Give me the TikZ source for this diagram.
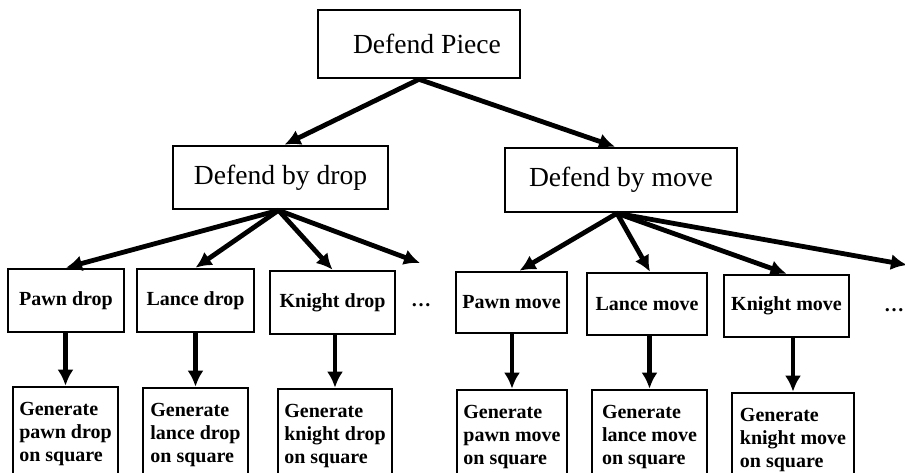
\documentclass[tikz,border=0pt]{standalone}
\usepackage{fontspec}
\setmainfont{Liberation Serif}
\usetikzlibrary{arrows.meta}
\begin{document}
\begin{tikzpicture}[x=0.5pt,y=-0.5pt,
  box/.style={draw,line width=1.3pt,inner sep=0pt,font=\fontsize{13.8}{16}\selectfont},
  small/.style={draw,line width=1.3pt,inner sep=0pt,font=\fontsize{10}{11.5}\selectfont\bfseries},
  gen/.style={draw,line width=1.3pt,inner sep=0pt,align=left,font=\fontsize{10}{11.6}\selectfont\bfseries},
  arr/.style={line width=2.4pt,-{Latex[length=8pt,width=8pt]}},
  dots/.style={font=\fontsize{10}{11.5}\selectfont\bfseries}]
\clip (0,0) rectangle (905,472);
\useasboundingbox (0,0) rectangle (905,472);
% top
\node[box,minimum width=101pt,minimum height=34pt] (top) at (419,44) {\hspace*{8pt}Defend Piece};
\node[box,minimum width=107.5pt,minimum height=31.5pt] (drop) at (280.5,177.5) {Defend by drop};
\node[box,minimum width=116pt,minimum height=32pt] (move) at (621,180) {Defend by move};
% third row
\node[small,minimum width=58pt,minimum height=31.5pt] (pd) at (66,300.5) {Pawn drop};
\node[small,minimum width=58.5pt,minimum height=31.5pt] (ld) at (195.5,300.5) {Lance drop};
\node[small,minimum width=62.5pt,minimum height=31.5pt] (kd) at (332.5,302.5) {Knight drop};
\node[dots] (d1) at (421,305) {\dots};
\node[small,minimum width=55.5pt,minimum height=30.5pt] (pm) at (511.5,302.5) {Pawn move};
\node[small,minimum width=60pt,minimum height=31pt] (lm) at (647,304) {Lance move};
\node[small,minimum width=62.5pt,minimum height=31pt] (km) at (786.5,306) {Knight move};
\node[dots] (d2) at (894,310) {\dots};
% generate row
\node[gen,minimum width=52.5pt,minimum height=47pt] (gpd) at (65.5,434) {Generate\\pawn drop\\on square};
\node[gen,minimum width=52.5pt,minimum height=47pt] (gld) at (195.5,435) {Generate\\lance drop\\on square};
\node[gen,minimum width=57pt,minimum height=47pt] (gkd) at (335,436) {Generate\\knight drop\\on square};
\node[gen,minimum width=55pt,minimum height=47pt] (gpm) at (512,437) {Generate\\pawn move\\on square};
\node[gen,minimum width=57.5pt,minimum height=47pt] (glm) at (649.5,437) {Generate\\lance move\\on square};
\node[gen,minimum width=61pt,minimum height=47pt] (gkm) at (793,440) {Generate\\knight move\\on square};
\coordinate (dd) at (420,263);
\coordinate (dm) at (907,265);
% arrows level 1
\draw[arr] (top.south) -- ([xshift=2pt]drop.north);
\draw[arr] (top.south) -- ([xshift=-3pt]move.north);
% arrows level 2
\draw[arr] ([xshift=-1pt]drop.south) -- (pd.north);
\draw[arr] ([xshift=-1pt]drop.south) -- (ld.north);
\draw[arr] ([xshift=-1pt]drop.south) -- (kd.north);
\draw[arr] ([xshift=-1pt]drop.south) -- (dd);
\draw[arr] ([xshift=-2pt]move.south) -- ([xshift=4pt]pm.north);
\draw[arr] ([xshift=-2pt]move.south) -- ([xshift=1.5pt]lm.north);
\draw[arr] ([xshift=-2pt]move.south) -- (km.north);
\draw[arr] ([xshift=-2pt]move.south) -- (dm);
% arrows level 3
\draw[arr] (gpd.north |- pd.south) -- (gpd.north);
\draw[arr] (gld.north |- ld.south) -- (gld.north);
\draw[arr] (gkd.north |- kd.south) -- (gkd.north);
\draw[arr] (gpm.north |- pm.south) -- (gpm.north);
\draw[arr] (glm.north |- lm.south) -- (glm.north);
\draw[arr] (gkm.north |- km.south) -- (gkm.north);
\end{tikzpicture}
\end{document}
